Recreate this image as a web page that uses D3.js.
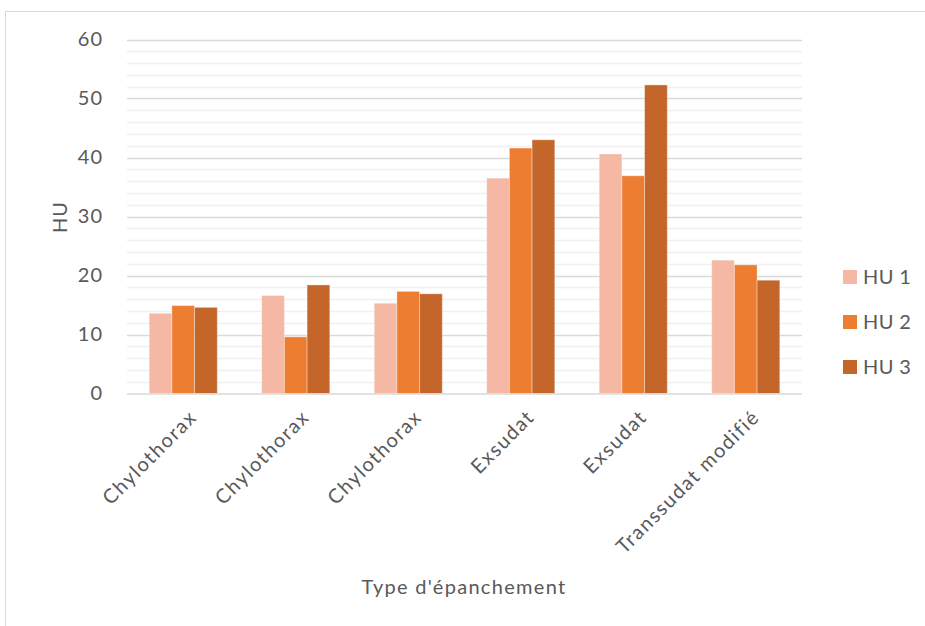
<!DOCTYPE html>
<html>
<head>
<meta charset="utf-8">
<script src="https://cdn.jsdelivr.net/npm/d3@7"></script>
<style>
  html, body { margin: 0; padding: 0; background: #fff; }
  svg { display: block; }
  text { font-family: Lato, "Noto Sans", sans-serif; fill: #595959; }
</style>
</head>
<body>
<div id="chart"></div>
<script>
// Effusion types and the three HU measurements per case
const categories = ["Chylothorax", "Chylothorax", "Chylothorax", "Exsudat", "Exsudat", "Transsudat modifié"];
const seriesNames = ["HU 1", "HU 2", "HU 3"];
const hu1 = [13.6, 16.6, 15.3, 36.5, 40.6, 22.6];
const hu2 = [14.9, 9.6, 17.3, 41.6, 36.9, 21.8];
const hu3 = [14.6, 18.4, 16.9, 43.0, 52.3, 19.2];
const yTicks = [0, 10, 20, 30, 40, 50, 60];
const colors = ["#F4B8A4", "#ED7D31", "#C4652A"];

const W = 925, H = 626;
const plot = { left: 127, right: 802, top: 39.5, bottom: 393.5 };
const FS = 20;

const svg = d3.select("#chart").append("svg").attr("width", W).attr("height", H);

// chart area frame
svg.append("rect")
  .attr("x", 5.5).attr("y", 11.5).attr("width", 940).attr("height", 640)
  .attr("fill", "#fff").attr("stroke", "#D9D9D9").attr("stroke-width", 1);

const x0 = d3.scaleBand().domain(d3.range(categories.length))
  .range([plot.left, plot.right]).paddingInner(0.395).paddingOuter(0.1975);
const x1 = d3.scaleBand().domain(seriesNames).range([0, x0.bandwidth()]);
const y = d3.scaleLinear().domain([0, 60]).range([plot.bottom, plot.top]);

// minor gridlines every 2 units
const minor = d3.range(2, 60, 2).filter(v => v % 10 !== 0);
svg.append("g").selectAll("line").data(minor).join("line")
  .attr("x1", plot.left).attr("x2", plot.right)
  .attr("y1", d => Math.round(y(d)) + 0.5).attr("y2", d => Math.round(y(d)) + 0.5)
  .attr("stroke", "#F0F0F0").attr("stroke-width", 1.5);

// major gridlines
svg.append("g").selectAll("line").data(yTicks.filter(v => v > 0)).join("line")
  .attr("x1", plot.left).attr("x2", plot.right)
  .attr("y1", d => Math.round(y(d)) + 0.5).attr("y2", d => Math.round(y(d)) + 0.5)
  .attr("stroke", "#D9D9D9").attr("stroke-width", 1.5);

// bars
const series = [hu1, hu2, hu3];
const groups = svg.append("g").selectAll("g").data(categories.map((c, i) => i)).join("g")
  .attr("transform", i => `translate(${x0(i)},0)`);
groups.selectAll("rect")
  .data(i => seriesNames.map((s, k) => ({ s, k, v: series[k][i] })))
  .join("rect")
  .attr("x", d => x1(d.s))
  .attr("width", x1.bandwidth())
  .attr("y", d => y(d.v))
  .attr("height", d => y(0) - y(d.v))
  .attr("fill", d => colors[d.k])
  .attr("stroke", "#fff").attr("stroke-opacity", 0.35).attr("stroke-width", 1);

// x axis baseline
svg.append("line")
  .attr("x1", plot.left).attr("x2", plot.right)
  .attr("y1", y(0) + 0.5).attr("y2", y(0) + 0.5)
  .attr("stroke", "#D9D9D9").attr("stroke-width", 1.5);

// y tick labels
const yAxis = d3.axisLeft(y).tickValues(yTicks).tickSize(0).tickPadding(0);
const yg = svg.append("g").attr("transform", `translate(103,0)`).call(yAxis);
yg.select(".domain").remove();
yg.selectAll("text").attr("font-size", FS).attr("fill", "#595959")
  .attr("letter-spacing", 1)
  .style("font-family", "Lato, sans-serif");

// x category labels, rotated
const xAxis = d3.axisBottom(x0).tickFormat(i => categories[i]).tickSize(0).tickPadding(0);
const xg = svg.append("g").attr("transform", `translate(0,${plot.bottom})`).call(xAxis);
xg.select(".domain").remove();
xg.selectAll("text")
  .attr("font-size", FS).attr("fill", "#595959")
  .attr("letter-spacing", 1.5)
  .style("font-family", "Lato, sans-serif")
  .attr("text-anchor", "end")
  .attr("dy", "0.35em")
  .attr("transform", "translate(10,20) rotate(-45)");

// axis titles
svg.append("text")
  .attr("x", 464).attr("y", 594)
  .attr("text-anchor", "middle").attr("font-size", FS)
  .attr("letter-spacing", 1.3)
  .text("Type d'épanchement");
svg.append("text")
  .attr("transform", "translate(67,217) rotate(-90)")
  .attr("text-anchor", "middle").attr("font-size", FS)
  .attr("letter-spacing", 1)
  .text("HU");

// legend
const legend = svg.append("g").selectAll("g").data(seriesNames).join("g")
  .attr("transform", (d, i) => `translate(843,${270 + i * 45})`);
legend.append("rect").attr("width", 14).attr("height", 14)
  .attr("fill", (d, i) => colors[i]);
legend.append("text").attr("x", 20).attr("y", 7).attr("dy", "0.35em")
  .attr("font-size", FS).attr("letter-spacing", 0.4).text(d => d);
</script>
</body>
</html>
